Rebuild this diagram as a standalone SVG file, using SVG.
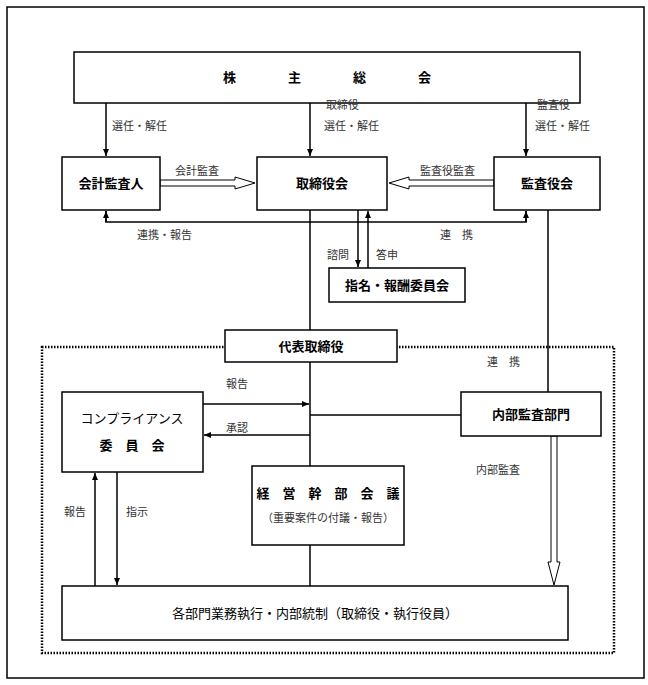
<svg xmlns="http://www.w3.org/2000/svg" width="648" height="685" viewBox="0 0 648 685">
<defs>
<marker id="a" markerWidth="8" markerHeight="8" refX="7" refY="4" orient="auto" markerUnits="userSpaceOnUse"><path d="M0,1 L7,4 L0,7 z" fill="#000"/></marker>
</defs>
<style>
.b{fill:#fff;stroke:#000;stroke-width:1.5}
.t{font-family:"Noto Sans CJK JP",sans-serif;font-size:13px;font-weight:bold;text-anchor:middle}
.l{font-family:"Noto Sans CJK JP",sans-serif;font-size:11px;fill:#333}
.c{stroke:#000;stroke-width:1.5;fill:none}
.h{fill:#fff;stroke:#000;stroke-width:1}
</style>
<rect x="7" y="7" width="637" height="671" fill="#fff" stroke="#000" stroke-width="1.5"/>
<rect x="42" y="347" width="572" height="306" fill="none" stroke="#000" stroke-width="2.5" stroke-dasharray="1.5,1.5"/>
<g id="connectors">
<line class="c" x1="106" y1="103" x2="106" y2="156" marker-end="url(#a)"/>
<line class="c" x1="310" y1="103" x2="310" y2="156" marker-end="url(#a)"/>
<line class="c" x1="526" y1="103" x2="526" y2="156" marker-end="url(#a)"/>
<path class="h" d="M160,180 H235 V177 L255,183 L235,189 V186 H160 z"/>
<path class="h" d="M494,180 H409 V177 L389,183 L409,189 V186 H494 z"/>
<polyline class="c" points="106,211 106,222 526,222 526,211"/>
<line class="c" x1="106" y1="222" x2="106" y2="211" marker-end="url(#a)"/>
<line class="c" x1="526" y1="222" x2="526" y2="211" marker-end="url(#a)"/>
<line class="c" x1="358" y1="210" x2="358" y2="267" marker-end="url(#a)"/>
<line class="c" x1="368" y1="268" x2="368" y2="211" marker-end="url(#a)"/>
<line class="c" x1="310" y1="210" x2="310" y2="330"/>
<line class="c" x1="310" y1="362" x2="310" y2="466"/>
<line class="c" x1="310" y1="545" x2="310" y2="586"/>
<line class="c" x1="548" y1="210" x2="548" y2="392"/>
<line class="c" x1="203" y1="404" x2="309" y2="404" marker-end="url(#a)"/>
<line class="c" x1="310" y1="435" x2="204" y2="435" marker-end="url(#a)"/>
<line class="c" x1="310" y1="415" x2="461" y2="415"/>
<line class="c" x1="95" y1="586" x2="95" y2="473" marker-end="url(#a)"/>
<line class="c" x1="117" y1="472" x2="117" y2="585" marker-end="url(#a)"/>
<path class="h" d="M551,436 V562 H548 L554,585 L560,562 H557 V436 z"/>
</g>
<g id="n1"><rect class="b" x="74" y="52" width="506" height="51"/><text class="t" x="327" y="82">株　　　　主　　　　総　　　　会</text></g>
<g id="n2"><rect class="b" x="62" y="157" width="98" height="53"/><text class="t" x="111" y="188">会計監査人</text></g>
<g id="n3"><rect class="b" x="257" y="157" width="130" height="53"/><text class="t" x="322" y="188">取締役会</text></g>
<g id="n4"><rect class="b" x="494" y="157" width="106" height="53"/><text class="t" x="547" y="188">監査役会</text></g>
<g id="n5"><rect class="b" x="329" y="268" width="136" height="34"/><text class="t" x="397" y="290">指名・報酬委員会</text></g>
<g id="n6"><rect class="b" x="225" y="330" width="172" height="32"/><text class="t" x="311" y="351">代表取締役</text></g>
<g id="n7"><rect class="b" x="62" y="392" width="141" height="80"/><text class="t" x="132" y="423" style="font-weight:normal">コンプライアンス</text><text class="t" x="132" y="450">委　員　会</text></g>
<g id="n8"><rect class="b" x="461" y="392" width="140" height="44"/><text class="t" x="531" y="419">内部監査部門</text></g>
<g id="n9"><rect class="b" x="252" y="466" width="152" height="79"/><text class="t" x="328" y="498">経　営　幹　部　会　議</text><text class="l" x="328" y="522" text-anchor="middle">（重要案件の付議・報告）</text></g>
<g id="n10"><rect class="b" x="62" y="586" width="506" height="54"/><text class="t" x="315" y="618" style="font-weight:normal">各部門業務執行・内部統制（取締役・執行役員）</text></g>
<g id="labels">
<text class="l" x="112" y="130">選任・解任</text>
<text class="l" x="326" y="109">取締役</text>
<text class="l" x="324" y="130">選任・解任</text>
<text class="l" x="537" y="109">監査役</text>
<text class="l" x="535" y="130">選任・解任</text>
<text class="l" x="175" y="175">会計監査</text>
<text class="l" x="420" y="175">監査役監査</text>
<text class="l" x="137" y="239">連携・報告</text>
<text class="l" x="440" y="239">連　携</text>
<text class="l" x="327" y="259">諮問</text>
<text class="l" x="376" y="259">答申</text>
<text class="l" x="487" y="366">連　携</text>
<text class="l" x="226" y="388">報告</text>
<text class="l" x="226" y="432">承認</text>
<text class="l" x="476" y="474">内部監査</text>
<text class="l" x="64" y="516">報告</text>
<text class="l" x="126" y="516">指示</text>
</g>
</svg>
